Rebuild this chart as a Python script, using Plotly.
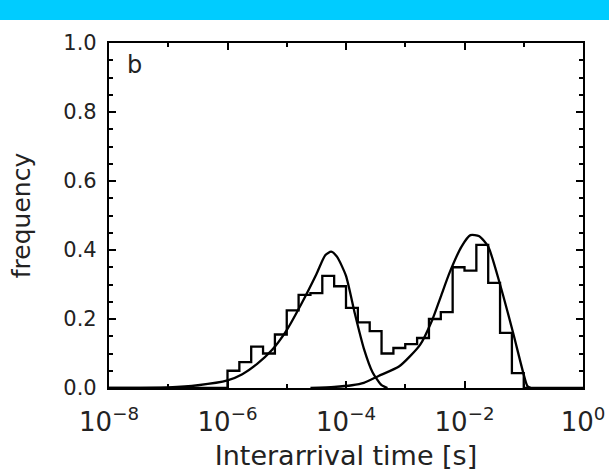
import plotly.graph_objects as go

# ---- data ----
# histogram: bins of 0.2 decade, first bin starts at log10(t) = -6.0
hist_start_log = -6.0
hist_bin_width = 0.2
hist_values = [0.05, 0.075, 0.12, 0.10, 0.155, 0.225, 0.27, 0.275, 0.325, 0.295,
               0.232, 0.19, 0.165, 0.10, 0.116, 0.127, 0.145, 0.20, 0.22, 0.35,
               0.34, 0.415, 0.305, 0.16, 0.043]

# fitted curve 1 (short interarrival population)
fit1_log_t = [-8.0, -7.0, -6.5, -6.0, -5.75, -5.5, -5.25, -5.0, -4.75, -4.5,
              -4.35, -4.25, -4.15, -4.0, -3.85, -3.7, -3.55, -3.4, -3.3]
fit1_freq = [0.0, 0.002, 0.008, 0.022, 0.04, 0.07, 0.11, 0.168, 0.245, 0.33,
             0.385, 0.395, 0.38, 0.325, 0.215, 0.115, 0.045, 0.008, 0.0]

# fitted curve 2 (long interarrival population)
fit2_log_t = [-4.6, -4.2, -3.9, -3.7, -3.45, -3.1, -2.75, -2.55, -2.4, -2.25,
              -2.05, -1.9, -1.75, -1.6, -1.4, -1.18, -1.01, -0.94, -0.88]
fit2_freq = [0.0, 0.003, 0.008, 0.015, 0.035, 0.063, 0.125, 0.195, 0.265, 0.335,
             0.41, 0.443, 0.44, 0.41, 0.30, 0.16, 0.045, 0.006, 0.0]

x_tick_exps = [-8, -6, -4, -2, 0]
y_tick_vals = [0.0, 0.2, 0.4, 0.6, 0.8, 1.0]

# ---- build step outline of histogram ----
n = len(hist_values)
edges_log = [hist_start_log + i * hist_bin_width for i in range(n + 1)]
hx = [1e-8] + [10 ** e for e in edges_log[:-1]] + [10 ** edges_log[-1], 1.0]
hy = [0.0] + hist_values + [0.0, 0.0]

fig = go.Figure()
fig.add_trace(go.Scatter(x=hx, y=hy, mode="lines", line=dict(shape="hv", color="black", width=2.3),
                         showlegend=False, hoverinfo="skip"))
fig.add_trace(go.Scatter(x=[10 ** v for v in fit1_log_t], y=fit1_freq, mode="lines",
                         line=dict(color="black", width=2.3, shape="spline", smoothing=0.6),
                         showlegend=False, hoverinfo="skip"))
fig.add_trace(go.Scatter(x=[10 ** v for v in fit2_log_t], y=fit2_freq, mode="lines",
                         line=dict(color="black", width=2.3, shape="spline", smoothing=0.6),
                         showlegend=False, hoverinfo="skip"))

font_family = "DejaVu Sans, Liberation Sans, sans-serif"
txt_color = "#222222"

fig.update_layout(
    width=609, height=473,
    margin=dict(l=109, r=26, t=43, b=85),
    paper_bgcolor="white", plot_bgcolor="white",
    font=dict(family=font_family, color=txt_color, size=20),
    shapes=[dict(type="rect", xref="paper", yref="paper", x0=-0.3, x1=1.1,
                 y0=1.0667, y1=1.2, fillcolor="#00CCFF", line=dict(width=0), layer="above")],
    annotations=[dict(text="b", xref="paper", yref="paper", x=0.034, y=0.982,
                      xanchor="left", yanchor="top", showarrow=False,
                      font=dict(size=24, family=font_family, color=txt_color))],
)

fig.update_xaxes(
    type="log", range=[-8, 0], automargin=False,
    tickvals=[10.0 ** e for e in x_tick_exps],
    ticktext=[f"10<sup>{'−' + str(-e) if e < 0 else str(e)}</sup>" for e in x_tick_exps],
    ticks="inside", ticklen=7, tickwidth=1.5, tickcolor="black",
    minor=dict(tickvals=[10.0 ** e for e in [-7, -5, -3, -1]], ticks="inside", ticklen=4,
               tickwidth=1.5, tickcolor="black"),
    showline=True, linecolor="black", linewidth=2.2, mirror="ticks",
    showgrid=False, zeroline=False,
    tickfont=dict(size=26), ticklabelstandoff=10,
    title=dict(text="Interarrival time [s]", font=dict(size=27), standoff=10),
)
fig.update_yaxes(
    range=[0, 1.0], automargin=False, tickvals=y_tick_vals,
    ticktext=[f"{v:.1f}" for v in y_tick_vals],
    ticks="inside", ticklen=7, tickwidth=1.5, tickcolor="black",
    minor=dict(dtick=0.05, ticks="inside", ticklen=4, tickwidth=1.5, tickcolor="black"),
    showline=True, linecolor="black", linewidth=2.2, mirror="ticks",
    showgrid=False, zeroline=False,
    tickfont=dict(size=21), ticklabelstandoff=6,
    title=dict(text="frequency", font=dict(size=25), standoff=26),
)

fig.write_html("out.html", post_script="document.body.style.margin='0';",
               config={"displayModeBar": False})
